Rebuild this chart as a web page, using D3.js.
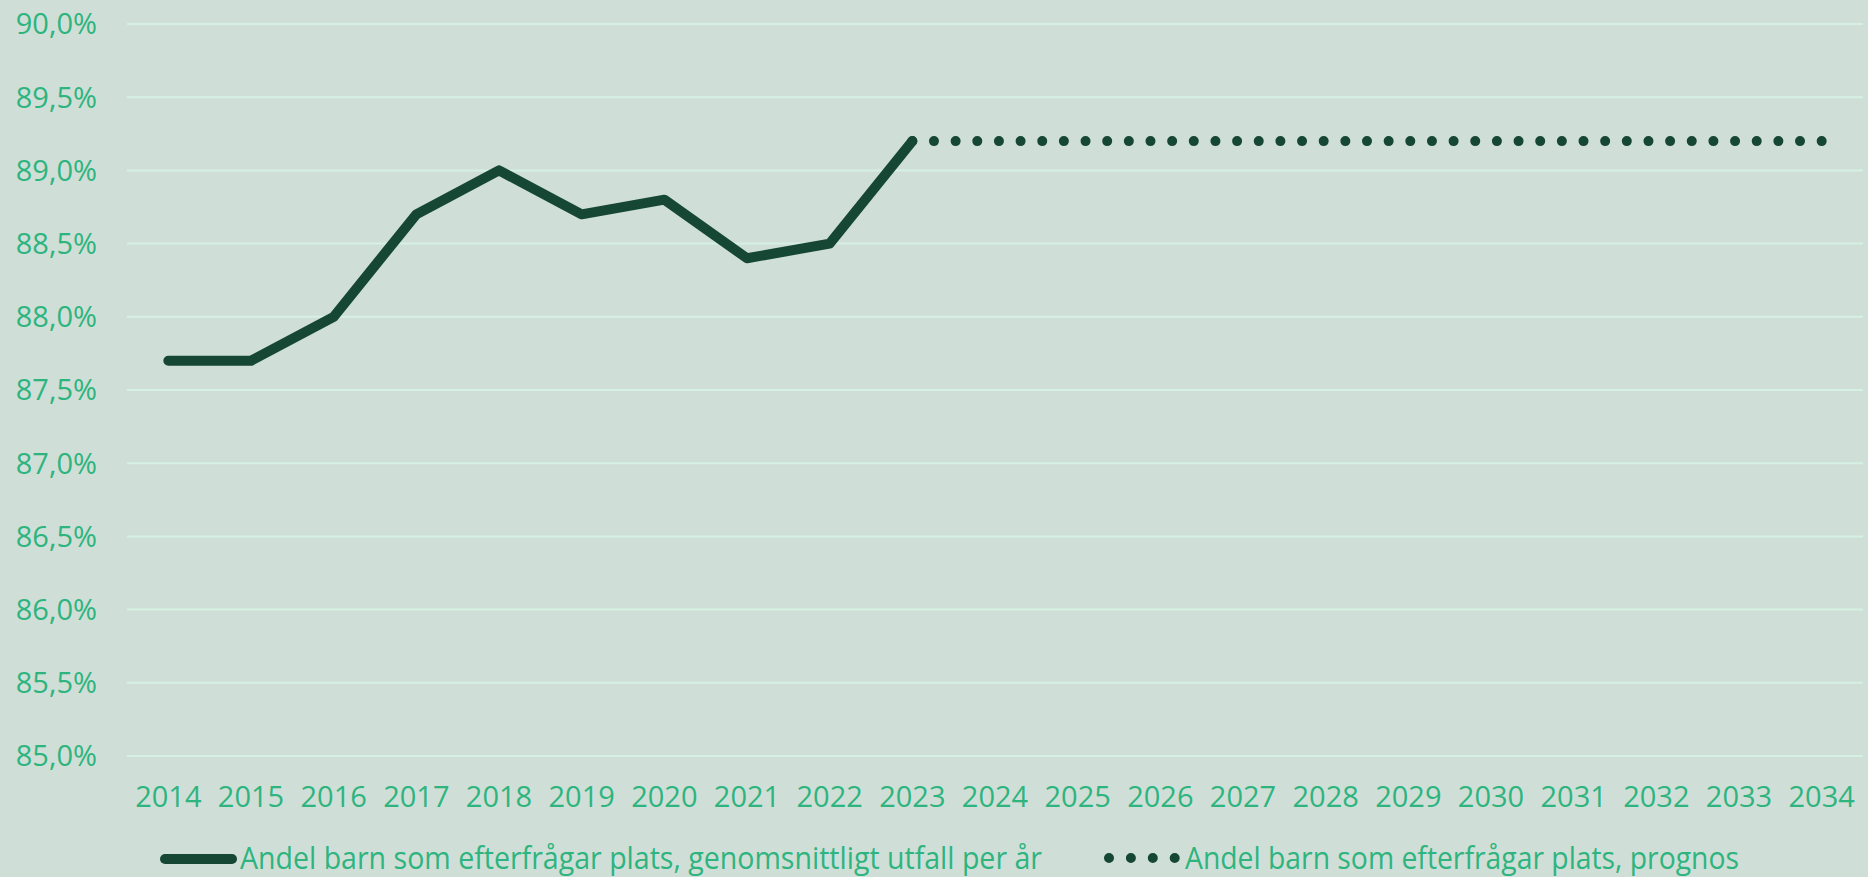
<!DOCTYPE html>
<html>
<head>
<meta charset="utf-8">
<script src="https://cdn.jsdelivr.net/npm/d3@7"></script>
<style>
  html, body { margin: 0; padding: 0; background: #cfdfd7; }
  svg { display: block; font-family: "Open Sans", sans-serif; }
</style>
</head>
<body>
<svg id="chart" width="1868" height="877"></svg>
<script>
var years = ["2014","2015","2016","2017","2018","2019","2020","2021","2022","2023",
             "2024","2025","2026","2027","2028","2029","2030","2031","2032","2033","2034"];
var actualYears = ["2014","2015","2016","2017","2018","2019","2020","2021","2022","2023"];
var actualValues = [87.7, 87.7, 88.0, 88.7, 89.0, 88.7, 88.8, 88.4, 88.5, 89.2];
var forecastYears = ["2023","2024","2025","2026","2027","2028","2029","2030","2031","2032","2033","2034"];
var forecastValues = [89.2, 89.2, 89.2, 89.2, 89.2, 89.2, 89.2, 89.2, 89.2, 89.2, 89.2, 89.2];
var yTicks = [85, 85.5, 86, 86.5, 87, 87.5, 88, 88.5, 89, 89.5, 90];
var legendLabels = ["Andel barn som efterfrågar plats, genomsnittligt utfall per år",
                    "Andel barn som efterfrågar plats, prognos"];

(function(){
    var textColor = "#2eb47e";
    var lineColor = "#164734";
    var gridColor = "#d6f1e4";

    var svg = d3.select("#chart");
    svg.append("rect").attr("width", 1868).attr("height", 877).attr("fill", "#cfdfd7");

    var plotLeft = 127, plotRight = 1863, plotTop = 24, plotBottom = 756;

    var x = d3.scaleBand().domain(years).range([plotLeft, plotRight]);
    var y = d3.scaleLinear().domain([85, 90]).range([plotBottom, plotTop]);
    var cx = function(d){ return x(d) + x.bandwidth() / 2; };

    // grid
    svg.append("g").selectAll("line").data(yTicks).enter().append("line")
        .attr("x1", plotLeft).attr("x2", plotRight)
        .attr("y1", function(d){ return y(d); })
        .attr("y2", function(d){ return y(d); })
        .attr("stroke", gridColor).attr("stroke-width", 2);

    // y labels
    var fmt = function(d){ return d3.format(".1f")(d).replace(".", ",") + "%"; };
    svg.append("g").selectAll("text").data(yTicks).enter().append("text")
        .attr("x", 97).attr("y", function(d){ return y(d); })
        .attr("dy", "0.36em")
        .attr("text-anchor", "end")
        .attr("font-size", 29)
        .attr("fill", textColor)
        .text(fmt);

    // x labels
    svg.append("g").selectAll("text").data(years).enter().append("text")
        .attr("x", cx).attr("y", 807)
        .attr("text-anchor", "middle")
        .attr("font-size", 29)
        .attr("fill", textColor)
        .text(function(d){ return d; });

    var line = d3.line().x(function(d){ return cx(d[0]); }).y(function(d){ return y(d[1]); });

    // forecast (dotted)
    var span = cx("2034") - cx("2023");
    var gap = span / 42;
    svg.append("path").attr("d", line(d3.zip(forecastYears, forecastValues)))
        .attr("fill", "none").attr("stroke", lineColor)
        .attr("stroke-width", 10).attr("stroke-linecap", "round")
        .attr("stroke-dasharray", "0," + gap);

    // actual
    svg.append("path").attr("d", line(d3.zip(actualYears, actualValues)))
        .attr("fill", "none").attr("stroke", lineColor)
        .attr("stroke-width", 10).attr("stroke-linecap", "round")
        .attr("stroke-linejoin", "round");

    // legend
    var lg = svg.append("g");
    lg.append("line").attr("x1", 165).attr("x2", 232).attr("y1", 859).attr("y2", 859)
        .attr("stroke", lineColor).attr("stroke-width", 10).attr("stroke-linecap", "round");
    lg.append("text").attr("x", 240).attr("y", 869)
        .attr("font-size", 31).attr("fill", textColor)
        .attr("textLength", 802).attr("lengthAdjust", "spacingAndGlyphs")
        .text(legendLabels[0]);
    lg.append("line").attr("x1", 1109).attr("x2", 1175).attr("y1", 858).attr("y2", 858)
        .attr("stroke", lineColor).attr("stroke-width", 10).attr("stroke-linecap", "round")
        .attr("stroke-dasharray", "0,21.9");
    lg.append("text").attr("x", 1185).attr("y", 869)
        .attr("font-size", 31).attr("fill", textColor)
        .attr("textLength", 554).attr("lengthAdjust", "spacingAndGlyphs")
        .text(legendLabels[1]);
})();
</script>
</body>
</html>
